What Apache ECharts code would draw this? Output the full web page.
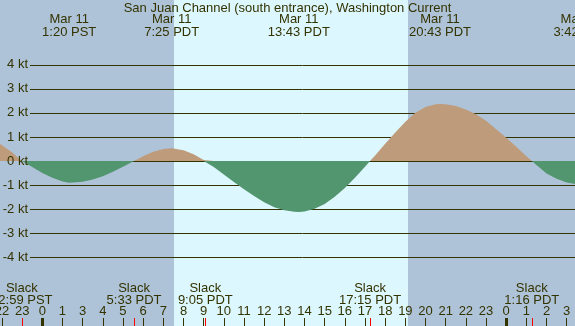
<!DOCTYPE html>
<html>
<head>
<meta charset="utf-8">
<script src="https://cdn.jsdelivr.net/npm/echarts@6/dist/echarts.min.js"></script>
<style>
html,body{margin:0;padding:0;background:#afc3d8;}
#chart{width:575px;height:326px;}
</style>
</head>
<body>
<div id="chart"></div>
<script>
// Time axis: real elapsed hours since Mar 11 00:00 PST (DST starts at 02:00 PST -> 03:00 PDT)
const times = [-2.25, -2.0, -1.5, -1.017, -0.5, 0, 0.5, 1.0, 1.333, 2.0, 2.5, 3.0, 3.5, 4.0, 4.55,
  5.0, 5.5, 6.0, 6.417, 7.0, 7.5, 8.0, 8.083,
  8.5, 9.0, 9.5, 10.0, 10.5, 11.0, 11.5, 12.0, 12.5, 12.717, 13.0, 13.5, 14.0, 14.5, 15.0, 15.5, 16.0, 16.25,
  16.5, 17.0, 17.5, 18.0, 18.5, 19.0, 19.5, 19.717, 20.0, 20.5, 21.0, 21.5, 22.0, 22.5, 23.0, 23.5, 24.0, 24.267,
  24.5, 25.0, 25.5, 26.0, 26.5, 26.7, 27.0];
const speeds = [0.80, 0.66, 0.36, 0, -0.25, -0.50, -0.70, -0.85, -0.90, -0.86, -0.77, -0.63, -0.45, -0.24, 0,
  0.20, 0.38, 0.50, 0.53, 0.45, 0.28, 0.04, 0,
  -0.25, -0.56, -0.87, -1.17, -1.46, -1.72, -1.92, -2.05, -2.11, -2.12, -2.10, -1.99, -1.79, -1.49, -1.12, -0.70, -0.24, 0,
  0.23, 0.72, 1.19, 1.63, 2.01, 2.25, 2.36, 2.37, 2.36, 2.29, 2.14, 1.94, 1.67, 1.32, 0.97, 0.59, 0.20, 0,
  -0.17, -0.52, -0.74, -0.89, -0.97, -0.98, -0.97];

const hourTickTimes = [-2,-1,0,1,2,3,4,5,6,7,8,9,10,11,12,13,14,15,16,17,18,19,20,21,22,23,24,25,26];
const hourTickLabels = ['22','23','0','1','3','4','5','6','7','8','9','10','11','12','13','14','15','16','17','18','19','20','21','22','23','0','1','2','3'];
const midnightTimes = [0, 23];

const slackTimes = [-1.017, 4.55, 8.083, 16.25, 24.267];
const slackLabels = ['22:59 PST', '5:33 PDT', '9:05 PDT', '17:15 PDT', '1:16 PDT'];

const extremaTimes = [1.333, 6.417, 12.717, 19.717, 26.7];
const extremaDates = ['Mar 11', 'Mar 11', 'Mar 11', 'Mar 11', 'Mar 12'];
const extremaLabels = ['1:20 PST', '7:25 PDT', '13:43 PDT', '20:43 PDT', '3:42 PDT'];

const sunrise = 6.53;   // 7:32 PDT
const sunset = 18.13;   // 19:08 PDT

const yTicks = [-4, 4];
const titleText = 'San Juan Channel (south entrance), Washington Current';

// ---- layout / style ----
const W = 575, H = 326;
const pxPerHour = 20.17, xZero = 42.3;
const pxPerKt = 24.05, yZero = 161;
const tMin = -3, tMax = 27;
const textColor = '#333300';
const font = 'Liberation Sans, Arial, sans-serif';
const nightColor = '#afc3d8', dayColor = '#ddf7ff';
const floodColor = '#be9b7a', ebbColor = '#52966f';

function nearestIdx(arr, v) {
  let best = 0;
  for (let i = 1; i < arr.length; i++) if (Math.abs(arr[i] - v) < Math.abs(arr[best] - v)) best = i;
  return best;
}

const pos = times.map((t, i) => [t, Math.max(speeds[i], 0)]);
const neg = times.map((t, i) => [t, Math.min(speeds[i], 0)]);

const chart = echarts.init(document.getElementById('chart'), null, {width: W, height: H, renderer: 'canvas'});

const gridLeft = xZero + tMin * pxPerHour;
const gridWidth = (tMax - tMin) * pxPerHour;
const yMax = yZero / pxPerKt;
const yMin = -(H - yZero) / pxPerKt;

const baseX = {
  type: 'value', gridIndex: 0, min: tMin, max: tMax,
  axisLine: {show: false, onZero: false}, splitLine: {show: false}
};

chart.setOption({
  backgroundColor: nightColor,
  animation: false,
  textStyle: {fontFamily: font},
  title: {
    text: titleText, left: 'center', top: -3,
    textStyle: {fontSize: 13, fontWeight: 'normal', color: textColor, fontFamily: font}
  },
  grid: [
    {left: gridLeft, top: 0, width: gridWidth, height: H, outerBoundsMode: 'none', containLabel: false},
    {left: 30, right: 0, top: yZero - yTicks[1] * pxPerKt, height: (yTicks[1] - yTicks[0]) * pxPerKt, outerBoundsMode: 'none', containLabel: false}
  ],
  xAxis: [
    Object.assign({}, baseX, {
      position: 'bottom', z: 5,
      axisTick: {show: true, inside: true, length: 8, customValues: hourTickTimes, lineStyle: {color: textColor, width: 1}},
      axisLabel: {show: true, inside: true, margin: 8, customValues: hourTickTimes, color: textColor, fontSize: 13, fontFamily: font,
        formatter: v => hourTickLabels[nearestIdx(hourTickTimes, v)]}
    }),
    Object.assign({}, baseX, {
      position: 'bottom', z: 6,
      axisTick: {show: true, inside: true, length: 8, customValues: slackTimes, lineStyle: {color: '#ff0000', width: 1}},
      axisLabel: {show: true, inside: true, margin: 19, customValues: slackTimes, color: textColor, fontSize: 13, fontFamily: font, lineHeight: 12.5,
        formatter: v => 'Slack\n' + slackLabels[nearestIdx(slackTimes, v)]}
    }),
    Object.assign({}, baseX, {
      position: 'bottom', z: 6,
      axisTick: {show: true, inside: true, length: 8, customValues: midnightTimes, lineStyle: {color: textColor, width: 3}},
      axisLabel: {show: false}
    }),
    Object.assign({}, baseX, {
      position: 'top', z: 6,
      axisTick: {show: false},
      axisLabel: {show: true, inside: true, margin: 13, customValues: extremaTimes, color: textColor, fontSize: 13, fontFamily: font, lineHeight: 13,
        formatter: v => { const i = nearestIdx(extremaTimes, v); return extremaDates[i] + '\n' + extremaLabels[i]; }}
    }),
    {type: 'value', gridIndex: 1, show: false, min: 0, max: 1}
  ],
  yAxis: [
    {type: 'value', gridIndex: 0, show: false, min: yMin, max: yMax},
    {type: 'value', gridIndex: 1, position: 'left', min: yTicks[0], max: yTicks[1], interval: 1, z: 1,
      axisLine: {show: false, onZero: false}, axisTick: {show: false}, axisLabel: {show: false},
      splitLine: {show: true, lineStyle: {color: textColor, width: 1}}},
    {type: 'value', gridIndex: 1, position: 'left', offset: 0, min: yTicks[0], max: yTicks[1], interval: 1, z: 10,
      axisLine: {show: false, onZero: false}, axisTick: {show: false}, splitLine: {show: false},
      axisLabel: {show: true, margin: 2, color: textColor, fontSize: 13, fontFamily: font, showMinLabel: true, showMaxLabel: true,
        formatter: v => v + ' kt'}}
  ],
  series: [
    {
      type: 'line', xAxisIndex: 0, yAxisIndex: 0, data: pos, z: 3,
      showSymbol: false, symbol: 'none', lineStyle: {width: 0, opacity: 0},
      areaStyle: {color: floodColor, opacity: 1}, silent: true,
      markArea: {silent: true, z: 0, itemStyle: {color: dayColor, opacity: 1}, label: {show: false},
        data: [[{xAxis: sunrise}, {xAxis: sunset}]]}
    },
    {
      type: 'line', xAxisIndex: 0, yAxisIndex: 0, data: neg, z: 3,
      showSymbol: false, symbol: 'none', lineStyle: {width: 0, opacity: 0},
      areaStyle: {color: ebbColor, opacity: 1}, silent: true
    }
  ]
});
</script>
</body>
</html>
